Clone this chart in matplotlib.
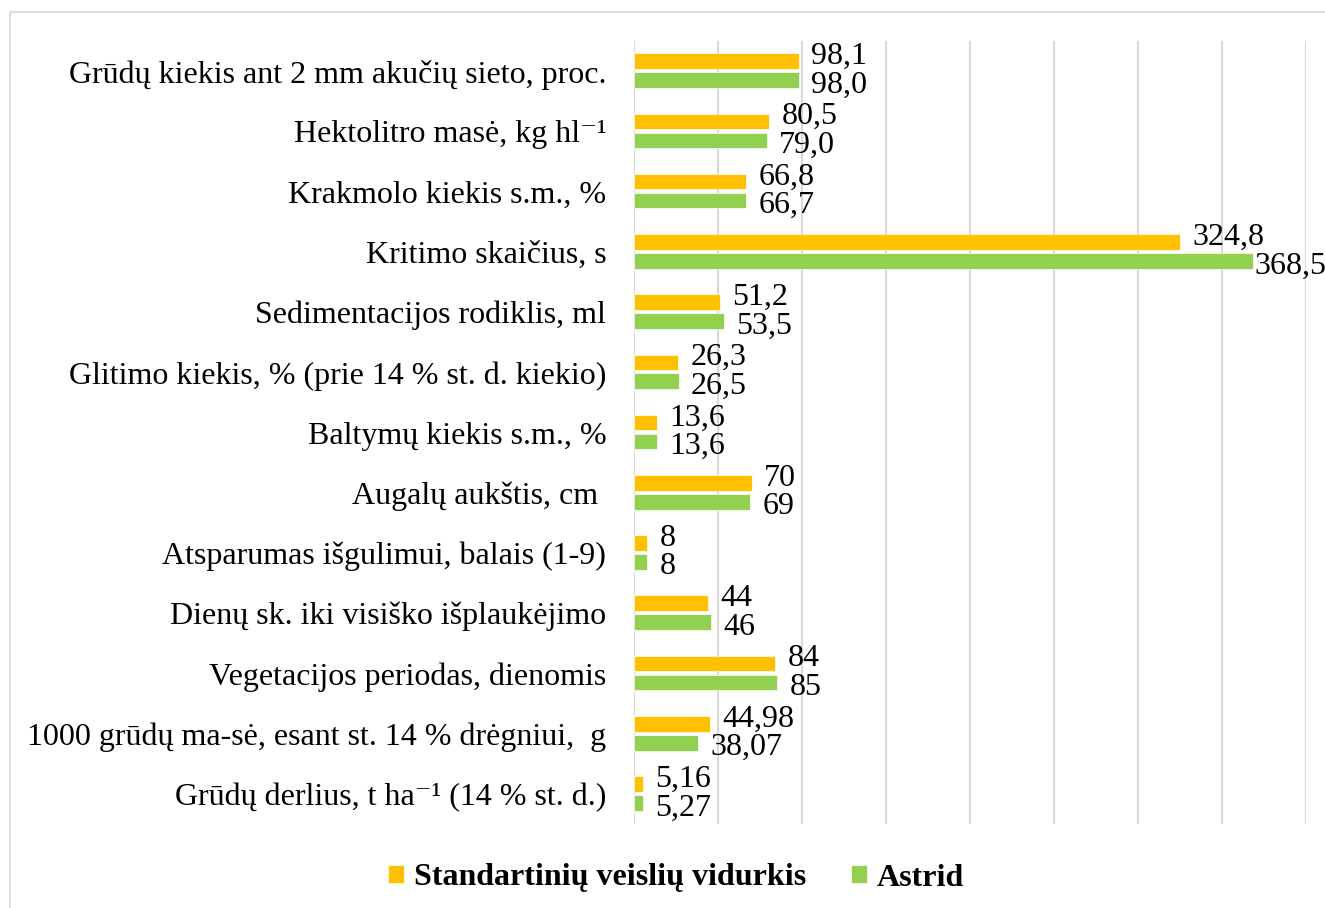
import matplotlib
matplotlib.use("Agg")
import matplotlib.pyplot as plt
from matplotlib.patches import Rectangle
import numpy as np

plt.rcParams['font.family'] = ['Liberation Serif', 'DejaVu Serif']

categories = [
    "Grūdų kiekis ant 2 mm akučių sieto, proc.",
    "Hektolitro masė, kg hl\u207b\u00b9",
    "Krakmolo kiekis s.m., %",
    "Kritimo skaičius, s",
    "Sedimentacijos rodiklis, ml",
    "Glitimo kiekis, % (prie 14 % st. d. kiekio)",
    "Baltymų kiekis s.m., %",
    "Augalų aukštis, cm ",
    "Atsparumas išgulimui, balais (1-9)",
    "Dienų sk. iki visiško išplaukėjimo",
    "Vegetacijos periodas, dienomis",
    "1000 grūdų ma-sė, esant st. 14 % drėgniui,  g",
    "Grūdų derlius, t ha\u207b\u00b9 (14 % st. d.)",
]
standard = [98.1, 80.5, 66.8, 324.8, 51.2, 26.3, 13.6, 70, 8, 44, 84, 44.98, 5.16]
astrid = [98.0, 79.0, 66.7, 368.5, 53.5, 26.5, 13.6, 69, 8, 46, 85, 38.07, 5.27]
decimals = [1, 1, 1, 1, 1, 1, 1, 0, 0, 0, 0, 2, 2]
series_names = ["Standartinių veislių vidurkis", "Astrid"]
colors = ["#FFC000", "#92D050"]

W, H = 1325, 908
FS = 23
fig = plt.figure(figsize=(W / 100, H / 100), dpi=100)

# outer frame
fig.patches.append(Rectangle((10 / W, -0.05), 2, 1 - 12 / H + 0.05,
                             transform=fig.transFigure, fill=False,
                             edgecolor="#D9D9D9", linewidth=1.2))

ax = fig.add_axes([634 / W, 1 - 824 / H, (1306 - 634) / W, (824 - 41) / H])
y = np.arange(len(categories))
h = 0.26
ax.barh(y - 0.165, standard, height=h, color=colors[0], edgecolor="white",
        linewidth=0.5, label=series_names[0], zorder=3)
ax.barh(y + 0.15, astrid, height=h, color=colors[1], edgecolor="white",
        linewidth=0.5, label=series_names[1], zorder=3)

ax.set_xlim(0, 400)
ax.set_ylim(len(categories) - 0.5, -0.5)
ax.set_xticks(np.arange(0, 401, 50))
ax.xaxis.grid(True, color="#D9D9D9", linewidth=1.5)
ax.set_axisbelow(True)
ax.tick_params(axis='x', length=0, labelbottom=False)
ax.tick_params(axis='y', length=0, pad=20, labelsize=FS)
ax.set_yticks(y)
ax.set_yticklabels(categories)
for s in ax.spines.values():
    s.set_visible(False)


def fmt(v, d):
    return f"{v:.{d}f}".replace(".", ",")


xmax = ax.get_xlim()[1]
for i in range(len(categories)):
    ax.annotate(fmt(standard[i], decimals[i]), (standard[i], y[i] - 0.165),
                xytext=(9, -2), textcoords="offset points",
                ha="left", va="baseline", fontsize=FS)
    dx = 9 if astrid[i] < 0.85 * xmax else 1
    ax.annotate(fmt(astrid[i], decimals[i]), (astrid[i], y[i] + 0.15),
                xytext=(dx, -9), textcoords="offset points",
                ha="left", va="baseline", fontsize=FS)

handles, labels = ax.get_legend_handles_labels()
fig.legend(handles, labels, loc="center", bbox_to_anchor=(676 / W, 1 - 878 / H),
           ncol=2, frameon=False, prop={'weight': 'bold', 'size': FS},
           handlelength=0.5, handleheight=0.5, handletextpad=0.3,
           columnspacing=1.4)

fig.savefig("out.png", dpi=100)
